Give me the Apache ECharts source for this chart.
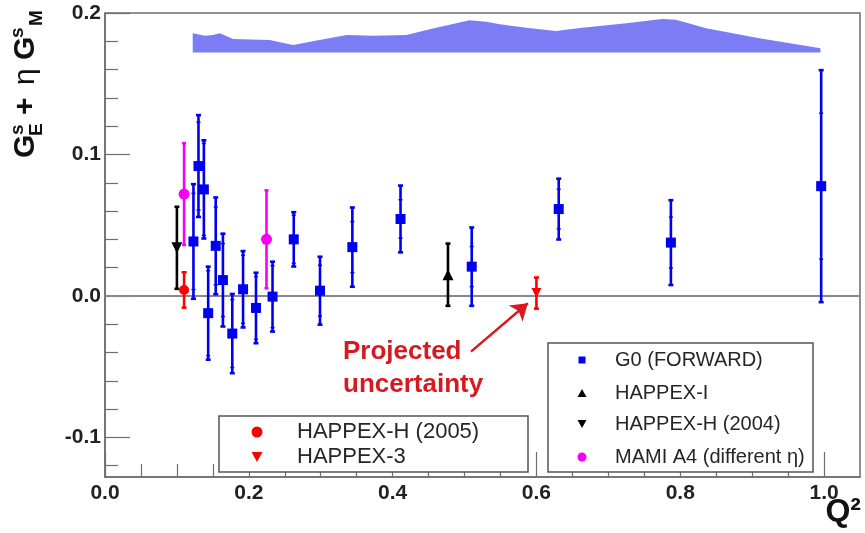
<!DOCTYPE html>
<html>
<head>
<meta charset="utf-8">
<script src="https://cdn.jsdelivr.net/npm/echarts@6/dist/echarts.min.js"></script>
<style>
  html, body { margin: 0; background: #fff; }
  #chart { width: 865px; height: 533px; }
</style>
</head>
<body>
<div id="chart"></div>
<script>
(function (window, echarts) {
    'use strict';

    // G0 forward angle points: Q^2, value, stat error (inner ticks), total error (outer bar)
    const g0Q    = [0.123, 0.130, 0.1375, 0.1435, 0.154, 0.164, 0.177, 0.192, 0.210, 0.233, 0.2625, 0.299, 0.344, 0.411, 0.510, 0.631, 0.787, 0.996];
    const g0Val  = [0.0385, 0.0918, 0.0753, -0.0122, 0.0354, 0.0112, -0.0266, 0.0047, -0.0085, -0.0005, 0.040, 0.0037, 0.0345, 0.0544, 0.0207, 0.0614, 0.0377, 0.0776];
    const g0Stat = [0.034, 0.031, 0.0325, 0.030, 0.0275, 0.0258, 0.024, 0.024, 0.0222, 0.0219, 0.017, 0.018, 0.018, 0.0136, 0.0142, 0.014, 0.018, 0.0516];
    const g0Tot  = [0.0405, 0.036, 0.0347, 0.0329, 0.0342, 0.0328, 0.028, 0.027, 0.0249, 0.0247, 0.0192, 0.024, 0.028, 0.0236, 0.0277, 0.0215, 0.030, 0.082];

    const happexIQ = [0.477];
    const happexIVal = [0.015];
    const happexIErr = [0.022];

    const happexH04Q = [0.100];
    const happexH04Val = [0.034];
    const happexH04Err = [0.029];

    const mamiQ = [0.110, 0.2246];
    const mamiVal = [0.072, 0.040];
    const mamiErr = [0.036, 0.0346];

    const happexH05Q = [0.110];
    const happexH05Val = [0.0042];
    const happexH05Err = [0.0125];

    const happex3Q = [0.600];
    const happex3Val = [0.002];
    const happex3Err = [0.011];

    // systematic error band at the top
    const bandQ   = [0.122, 0.139, 0.150, 0.160, 0.178, 0.229, 0.2616, 0.289, 0.336, 0.373, 0.419, 0.456, 0.507, 0.530, 0.549, 0.586, 0.627, 0.664, 0.725, 0.775, 0.794, 0.836, 0.910, 0.995];
    const bandTop = [0.1857, 0.184, 0.1845, 0.1857, 0.1816, 0.181, 0.1774, 0.180, 0.1845, 0.184, 0.1845, 0.189, 0.1948, 0.1939, 0.192, 0.1896, 0.1873, 0.1896, 0.1927, 0.1958, 0.1953, 0.1892, 0.1821, 0.175];
    const bandBase = 0.172;

    // tick values
    const xMajorTicks = [0, 0.2, 0.4, 0.6, 0.8, 1.0];
    const xMinorTicks = [0.05, 0.1, 0.15, 0.25, 0.3, 0.35, 0.45, 0.5, 0.55, 0.65, 0.7, 0.75, 0.85, 0.9, 0.95];
    const yMajorTicks = [-0.1, 0, 0.1, 0.2];
    const yMinorTicks = [-0.12, -0.08, -0.06, -0.04, -0.02, 0.02, 0.04, 0.06, 0.08, 0.12, 0.14, 0.16, 0.18];

    // arrow of the "Projected uncertainty" note, [Q^2, value] of tail and head
    const arrowFrom = [0.509, -0.0394];
    const arrowTo = [0.588, -0.0052];

    const FONT = 'Liberation Sans, Arial, Helvetica, sans-serif';
    const BLUE = '#0000f0';
    const MAGENTA = '#f500f5';
    const RED = '#ff0000';
    const NOTE_RED = '#d81920';
    const FRAME = '#6e6e6e';

    const chart = echarts.init(document.getElementById('chart'));

    function zip(q, v, err, stat) {
        return q.map((x, i) => stat
            ? [x, v[i] - err[i], v[i] + err[i], v[i] - stat[i], v[i] + stat[i]]
            : [x, v[i] - err[i], v[i] + err[i]]);
    }

    function errorBars(name, data, color, cap, tick) {
        return {
            type: 'custom',
            name: name,
            z: 3,
            silent: true,
            data: data,
            encode: { x: 0, y: [1, 2] },
            renderItem: function (params, api) {
                const x = api.value(0);
                const lo = api.coord([x, api.value(1)]);
                const hi = api.coord([x, api.value(2)]);
                const style = { stroke: color, lineWidth: 2.6 };
                const kids = [{ type: 'line', shape: { x1: lo[0], y1: lo[1], x2: hi[0], y2: hi[1] }, style: style }];
                if (cap) {
                    [lo, hi].forEach(p => kids.push({
                        type: 'line', shape: { x1: p[0] - cap, y1: p[1], x2: p[0] + cap, y2: p[1] }, style: style
                    }));
                }
                if (tick) {
                    [api.coord([x, api.value(3)]), api.coord([x, api.value(4)])].forEach(p => kids.push({
                        type: 'line', shape: { x1: p[0] - tick, y1: p[1], x2: p[0] + tick, y2: p[1] },
                        style: { stroke: color, lineWidth: 1.5 }
                    }));
                }
                return { type: 'group', children: kids };
            }
        };
    }

    function markers(name, q, v, symbol, size, color, rotate) {
        return {
            type: 'scatter',
            name: name,
            z: 5,
            silent: true,
            symbol: symbol,
            symbolSize: size,
            symbolRotate: rotate || 0,
            itemStyle: { color: color, opacity: 1 },
            data: q.map((x, i) => [x, v[i]])
        };
    }

    // legend boxes, drawn on top like the ROOT legends
    function legendText(x, y, text, size) {
        return { type: 'text', x: x, y: y, z: 100,
            style: { text: text, font: size + 'px ' + FONT, fill: '#262626', verticalAlign: 'middle' } };
    }
    function triangle(cx, cy, s, down, color) {
        const h = s * 0.9;
        const pts = down
            ? [[cx - s / 2, cy - h / 2], [cx + s / 2, cy - h / 2], [cx, cy + h / 2]]
            : [[cx - s / 2, cy + h / 2], [cx + s / 2, cy + h / 2], [cx, cy - h / 2]];
        return { type: 'polygon', z: 100, shape: { points: pts }, style: { fill: color } };
    }

    // y axis title, built letter group by letter group and turned to read upwards
    const titleFont = size => 'bold ' + size + 'px ' + FONT;
    const yTitle = {
        type: 'group', x: 36, y: 158, rotation: Math.PI / 2, z: 100,
        children: [
            { type: 'text', x: 0, y: 5, style: { text: 'G', font: titleFont(30), fill: '#111', verticalAlign: 'bottom' } },
            { type: 'text', x: 23, y: -9, style: { text: 's', font: titleFont(19), fill: '#111', verticalAlign: 'bottom' } },
            { type: 'text', x: 22, y: 10, style: { text: 'E', font: titleFont(19), fill: '#111', verticalAlign: 'bottom' } },
            { type: 'text', x: 43, y: 5, style: { text: '+', font: titleFont(30), fill: '#111', verticalAlign: 'bottom' } },
            { type: 'text', x: 73, y: 5, style: { text: 'η', font: '30px ' + FONT, fill: '#111', verticalAlign: 'bottom' } },
            { type: 'text', x: 98, y: 5, style: { text: 'G', font: titleFont(30), fill: '#111', verticalAlign: 'bottom' } },
            { type: 'text', x: 120, y: -9, style: { text: 's', font: titleFont(19), fill: '#111', verticalAlign: 'bottom' } },
            { type: 'text', x: 132, y: 10, style: { text: 'M', font: titleFont(19), fill: '#111', verticalAlign: 'bottom' } }
        ]
    };

    const graphics = [
        yTitle,
        { type: 'text', right: 4, top: 496, z: 100,
          style: { text: 'Q²', font: titleFont(32), fill: '#111' } },
        { type: 'text', x: 343, y: 335, z: 100,
          style: { text: 'Projected\nuncertainty', font: titleFont(26), fill: NOTE_RED, align: 'left', lineHeight: 33 } },

        { type: 'rect', z: 99, shape: { x: 219, y: 416, width: 309, height: 56 },
          style: { fill: '#fff', stroke: '#555', lineWidth: 1.5 } },
        { type: 'circle', z: 100, shape: { cx: 257, cy: 432, r: 5.5 }, style: { fill: RED } },
        legendText(297, 432, 'HAPPEX-H (2005)', 22),
        triangle(257, 457, 11, true, RED),
        legendText(297, 457, 'HAPPEX-3', 22),

        { type: 'rect', z: 99, shape: { x: 548, y: 343, width: 265, height: 129 },
          style: { fill: '#fff', stroke: '#555', lineWidth: 1.5 } },
        { type: 'rect', z: 100, shape: { x: 578.5, y: 356.5, width: 7, height: 7 }, style: { fill: BLUE } },
        legendText(615, 360, 'G0 (FORWARD)', 20),
        triangle(582, 393, 9, false, '#000'),
        legendText(615, 393, 'HAPPEX-I', 20),
        triangle(582, 424, 9, true, '#000'),
        legendText(615, 424, 'HAPPEX-H (2004)', 20),
        { type: 'circle', z: 100, shape: { cx: 582, cy: 457, r: 4.5 }, style: { fill: MAGENTA } },
        legendText(615, 457, 'MAMI A4 (different η)', 20)
    ];

    const axisLine = { show: true, onZero: false, lineStyle: { color: FRAME, width: 1.5 } };

    const options = {
        backgroundColor: '#fff',
        animation: false,
        grid: { left: 105, right: 5, top: 13, bottom: 56, show: true, borderColor: FRAME, borderWidth: 1.5, outerBoundsMode: 'none' },
        xAxis: [{
            type: 'value', min: 0, max: 1.05,
            axisLine: axisLine,
            splitLine: { show: false },
            axisTick: { show: true, inside: true, length: 25, customValues: xMajorTicks, lineStyle: { color: FRAME, width: 1.2 } },
            axisLabel: { customValues: xMajorTicks, margin: 6, formatter: v => v.toFixed(1),
                fontFamily: FONT, fontWeight: 'bold', fontSize: 21, color: '#222' }
        }, {
            type: 'value', min: 0, max: 1.05, position: 'bottom',
            axisLine: { show: false, onZero: false },
            splitLine: { show: false },
            axisTick: { show: true, inside: true, length: 13, customValues: xMinorTicks, lineStyle: { color: FRAME, width: 1.2 } },
            axisLabel: { show: false }
        }],
        yAxis: [{
            type: 'value', min: -0.128, max: 0.2,
            axisLine: axisLine,
            splitLine: { show: false },
            axisTick: { show: true, inside: true, length: 25, customValues: yMajorTicks, lineStyle: { color: FRAME, width: 1.2 } },
            axisLabel: { customValues: yMajorTicks, margin: 4, formatter: v => v.toFixed(1),
                fontFamily: FONT, fontWeight: 'bold', fontSize: 21, color: '#222' }
        }, {
            type: 'value', min: -0.128, max: 0.2, position: 'left', offset: 0,
            axisLine: { show: false, onZero: false },
            splitLine: { show: false },
            axisTick: { show: true, inside: true, length: 13, customValues: yMinorTicks, lineStyle: { color: FRAME, width: 1.2 } },
            axisLabel: { show: false }
        }],
        series: [
            {
                type: 'line', name: 'band', silent: true, z: 1,
                symbol: 'none',
                lineStyle: { width: 0 },
                areaStyle: { color: '#7c7cf4', opacity: 1, origin: bandBase },
                data: bandQ.map((x, i) => [x, bandTop[i]]),
                markLine: {
                    silent: true, symbol: 'none', z: 2,
                    label: { show: false },
                    lineStyle: { color: '#8a8a8a', width: 2, type: 'solid' },
                    data: [{ yAxis: 0 }]
                }
            },
            errorBars('G0 bars', zip(g0Q, g0Val, g0Tot, g0Stat), BLUE, 2.5, 2),
            errorBars('HAPPEX-I bars', zip(happexIQ, happexIVal, happexIErr), '#000', 2.5),
            errorBars('HAPPEX-H 2004 bars', zip(happexH04Q, happexH04Val, happexH04Err), '#000', 2.5),
            errorBars('MAMI bars', zip(mamiQ, mamiVal, mamiErr), MAGENTA, 2),
            errorBars('HAPPEX-H 2005 bars', zip(happexH05Q, happexH05Val, happexH05Err), RED, 2.5),
            errorBars('HAPPEX-3 bars', zip(happex3Q, happex3Val, happex3Err), RED, 2.5),
            markers('G0 (FORWARD)', g0Q, g0Val, 'rect', 10, BLUE),
            markers('HAPPEX-I', happexIQ, happexIVal, 'triangle', 11, '#000'),
            markers('HAPPEX-H (2004)', happexH04Q, happexH04Val, 'triangle', 11, '#000', 180),
            markers('MAMI A4 (different η)', mamiQ, mamiVal, 'circle', 11, MAGENTA),
            markers('HAPPEX-H (2005)', happexH05Q, happexH05Val, 'circle', 10, RED),
            Object.assign(markers('HAPPEX-3', happex3Q, happex3Val, 'triangle', 10, RED, 180), {
                markLine: {
                    silent: true,
                    symbol: ['none', 'arrow'],
                    symbolSize: 16,
                    label: { show: false },
                    lineStyle: { color: NOTE_RED, width: 2.5, type: 'solid' },
                    data: [[{ coord: arrowFrom }, { coord: arrowTo }]]
                }
            })
        ],
        graphic: graphics
    };

    chart.setOption(options);

})(window, echarts);
</script>
</body>
</html>
